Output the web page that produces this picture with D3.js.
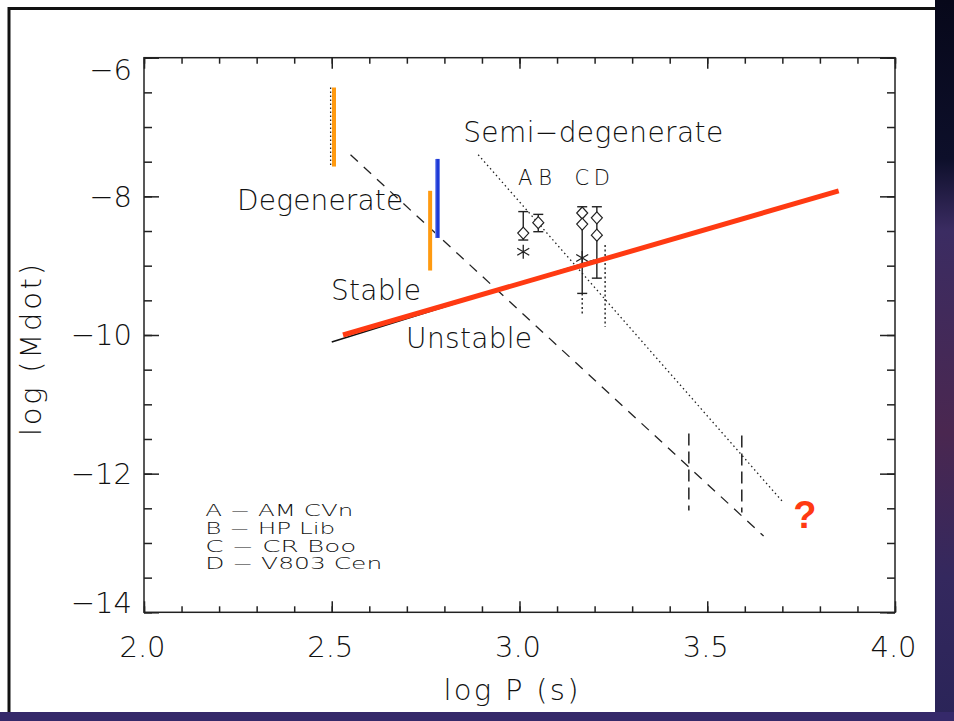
<!DOCTYPE html>
<html>
  <head>
    <meta charset="utf-8" />
    <script src="https://d3js.org/d3.v7.min.js"></script>
    <style>
      body {
        margin: 0;
        background: #fff;
      }
      svg text {
        font-family: "DejaVu Sans", "Liberation Sans", sans-serif;
        font-weight: 200;
        fill: #111;
      }
      .axis .domain {
        stroke: none;
      }
      .axis line {
        stroke: #222;
        stroke-width: 1.5;
      }
    </style>
  </head>

  <body>
    <svg id="chart" width="954" height="721"></svg>

    <script>
      // axis ticks
      const xMajor = [2.0, 2.5, 3.0, 3.5, 4.0];
      const xMinor = d3.range(21).map((i) => 2 + i / 10);
      const yMajor = [-6, -8, -10, -12, -14];
      const yMinor = d3.range(17).map((i) => -6 - i / 2);

      // model lines (log P, log Mdot)
      const degenerate = [[2.55, -7.4], [3.65, -12.9]];
      const semiDegenerate = [[2.89, -7.4], [3.70, -12.4]];
      const stableBoundary = [[2.5, -10.1], [3.2, -8.92]];
      const newBoundary = [[2.53, -10.0], [3.85, -7.92]];
      const startDots = [[2.497, -6.43], [2.497, -7.57]];

      // coloured ranges
      const orangeBars = [
        { x: 2.506, y0: -6.43, y1: -7.57 },
        { x: 2.762, y0: -7.92, y1: -9.07 },
      ];
      const blueBars = [{ x: 2.782, y0: -7.46, y1: -8.6 }];
      const cutoffs = [
        { x: 3.451, y0: -11.42, y1: -12.53 },
        { x: 3.592, y0: -11.45, y1: -12.56 },
      ];

      // observed systems
      const sources = ["A", "B", "C", "D"];
      const sourceNames = ["AM CVn", "HP Lib", "CR Boo", "V803 Cen"];
      const sourceLabelX = [3.015, 3.068, 3.166, 3.219];
      const errorBars = [
        { x: 3.01, y0: -8.22, y1: -8.63 },
        { x: 3.05, y0: -8.26, y1: -8.51 },
        { x: 3.167, y0: -8.15, y1: -9.4 },
        { x: 3.206, y0: -8.15, y1: -9.18 },
      ];
      const diamonds = [
        [3.01, -8.53], [3.05, -8.38], [3.167, -8.24],
        [3.167, -8.4], [3.206, -8.31], [3.206, -8.56],
      ];
      const asterisks = [[3.01, -8.8], [3.167, -8.89]];
      const dottedDrops = [
        { x: 3.167, y0: -9.4, y1: -9.69 },
        { x: 3.228, y0: -8.7, y1: -9.88 },
      ];

      const svg = d3.select("svg#chart");

      // slide background around the white panel
      const defs = svg.append("defs");
      const grad = defs
        .append("linearGradient")
        .attr("id", "space")
        .attr("x1", 0).attr("y1", 0).attr("x2", 0).attr("y2", 1);
      grad.append("stop").attr("offset", "0").attr("stop-color", "#07081a");
      grad.append("stop").attr("offset", "0.22").attr("stop-color", "#0d0f2a");
      grad.append("stop").attr("offset", "0.32").attr("stop-color", "#3b2c62");
      grad.append("stop").attr("offset", "0.6").attr("stop-color", "#4a2750");
      grad.append("stop").attr("offset", "0.8").attr("stop-color", "#34285e");
      grad.append("stop").attr("offset", "1").attr("stop-color", "#2a2458");
      svg.append("rect").attr("x", 935).attr("y", 0).attr("width", 19)
        .attr("height", 721).attr("fill", "url(#space)");
      svg.append("rect").attr("x", 0).attr("y", 712).attr("width", 954)
        .attr("height", 9).attr("fill", "#35296a");
      svg.append("path").attr("d", "M9,712V8.5H935")
        .attr("fill", "none").attr("stroke", "#111").attr("stroke-width", 3);

      const x = d3.scaleLinear().domain([2, 4]).range([144, 895]);
      const y = d3.scaleLinear().domain([-6, -14]).range([57.7, 612.3]);
      const line = d3.line().x((d) => x(d[0])).y((d) => y(d[1]));

      // frame
      svg.append("rect")
        .attr("x", x(2)).attr("y", y(-6))
        .attr("width", x(4) - x(2)).attr("height", y(-14) - y(-6))
        .attr("fill", "none").attr("stroke", "#222").attr("stroke-width", 1.5);

      const fmt = d3.format(".1f");
      const h = y(-14);
      const w = x(4);

      svg.append("g").attr("class", "axis").attr("transform", `translate(0,${h})`)
        .call(d3.axisBottom(x).tickValues(xMinor).tickSize(-6).tickFormat(""));
      svg.append("g").attr("class", "axis").attr("transform", `translate(0,${y(-6)})`)
        .call(d3.axisTop(x).tickValues(xMinor).tickSize(-6).tickFormat(""));
      svg.append("g").attr("class", "axis").attr("transform", `translate(0,${y(-6)})`)
        .call(d3.axisTop(x).tickValues(xMajor).tickSize(-11).tickFormat(""));
      const xAxis = svg.append("g").attr("class", "axis")
        .attr("transform", `translate(0,${h})`)
        .call(d3.axisBottom(x).tickValues(xMajor).tickSize(-11).tickFormat(fmt));
      xAxis.selectAll("text")
        .attr("x", -2).attr("y", 45).attr("dy", 0)
        .style("font-size", "29px");

      svg.append("g").attr("class", "axis").attr("transform", `translate(${x(2)},0)`)
        .call(d3.axisLeft(y).tickValues(yMinor).tickSize(-8).tickFormat(""));
      svg.append("g").attr("class", "axis").attr("transform", `translate(${w},0)`)
        .call(d3.axisRight(y).tickValues(yMinor).tickSize(-8).tickFormat(""));
      svg.append("g").attr("class", "axis").attr("transform", `translate(${w},0)`)
        .call(d3.axisRight(y).tickValues(yMajor).tickSize(-15).tickFormat(""));
      const yAxis = svg.append("g").attr("class", "axis")
        .attr("transform", `translate(${x(2)},0)`)
        .call(d3.axisLeft(y).tickValues(yMajor).tickSize(-15).tickPadding(12)
          .tickFormat(d3.format("d")));
      yAxis.selectAll("text")
        .style("font-size", "29px")
        .attr("dy", (d, i) => (i === 0 ? "0.74em" : i === yMajor.length - 1 ? "0.02em" : "0.34em"));

      svg.append("text")
        .attr("x", 511).attr("y", 700)
        .attr("text-anchor", "middle").style("font-size", "29px")
        .attr("textLength", 135)
        .text("log P (s)");
      svg.append("text")
        .attr("transform", "translate(41,350) rotate(-90)")
        .attr("text-anchor", "middle").style("font-size", "29px")
        .attr("textLength", 172)
        .text("log (Mdot)");

      // model curves
      svg.append("path").datum(degenerate).attr("d", line)
        .attr("fill", "none").attr("stroke", "#222").attr("stroke-width", 1.3)
        .attr("stroke-dasharray", "10,8");
      svg.append("path").datum(semiDegenerate).attr("d", line)
        .attr("fill", "none").attr("stroke", "#222").attr("stroke-width", 1.3)
        .attr("stroke-dasharray", "1.5,3");
      svg.append("path").datum(startDots).attr("d", line)
        .attr("fill", "none").attr("stroke", "#222").attr("stroke-width", 1.3)
        .attr("stroke-dasharray", "1.5,2.5");
      svg.append("path").datum(stableBoundary).attr("d", line)
        .attr("fill", "none").attr("stroke", "#111").attr("stroke-width", 1.6);

      svg.selectAll("line.cut").data(cutoffs).join("line").attr("class", "cut")
        .attr("x1", (d) => x(d.x)).attr("x2", (d) => x(d.x))
        .attr("y1", (d) => y(d.y0)).attr("y2", (d) => y(d.y1))
        .attr("stroke", "#222").attr("stroke-width", 1.5)
        .attr("stroke-dasharray", "12,6");

      // observed systems
      svg.selectAll("line.err").data(errorBars).join("line").attr("class", "err")
        .attr("x1", (d) => x(d.x)).attr("x2", (d) => x(d.x))
        .attr("y1", (d) => y(d.y0)).attr("y2", (d) => y(d.y1))
        .attr("stroke", "#222").attr("stroke-width", 1.4);
      errorBars.forEach((d) => {
        [d.y0, d.y1].forEach((v) => {
          svg.append("line")
            .attr("x1", x(d.x) - 5).attr("x2", x(d.x) + 5)
            .attr("y1", y(v)).attr("y2", y(v))
            .attr("stroke", "#222").attr("stroke-width", 1.4);
        });
      });
      svg.selectAll("line.drop").data(dottedDrops).join("line").attr("class", "drop")
        .attr("x1", (d) => x(d.x)).attr("x2", (d) => x(d.x))
        .attr("y1", (d) => y(d.y0)).attr("y2", (d) => y(d.y1))
        .attr("stroke", "#222").attr("stroke-width", 1.4)
        .attr("stroke-dasharray", "2,2.5");
      svg.selectAll("path.dia").data(diamonds).join("path").attr("class", "dia")
        .attr("d", (d) => {
          const cx = x(d[0]), cy = y(d[1]);
          return `M${cx},${cy - 6}L${cx + 5.5},${cy}L${cx},${cy + 6}L${cx - 5.5},${cy}Z`;
        })
        .attr("fill", "#fff").attr("stroke", "#222").attr("stroke-width", 1.2);
      svg.selectAll("path.ast").data(asterisks).join("path").attr("class", "ast")
        .attr("d", (d) => {
          const cx = x(d[0]), cy = y(d[1]);
          return `M${cx},${cy - 7}V${cy + 7}M${cx - 6},${cy - 3.5}L${cx + 6},${cy + 3.5}` +
            `M${cx - 6},${cy + 3.5}L${cx + 6},${cy - 3.5}`;
        })
        .attr("fill", "none").attr("stroke", "#222").attr("stroke-width", 1.3);

      svg.selectAll("text.src").data(sources).join("text").attr("class", "src")
        .attr("x", (d, i) => x(sourceLabelX[i])).attr("y", y(-7.84))
        .attr("text-anchor", "middle").style("font-size", "21px")
        .text((d) => d);

      // coloured ranges and new boundary
      svg.selectAll("line.orange").data(orangeBars).join("line").attr("class", "orange")
        .attr("x1", (d) => x(d.x)).attr("x2", (d) => x(d.x))
        .attr("y1", (d) => y(d.y0)).attr("y2", (d) => y(d.y1))
        .attr("stroke", "#ff9a10").attr("stroke-width", 4);
      svg.selectAll("line.blue").data(blueBars).join("line").attr("class", "blue")
        .attr("x1", (d) => x(d.x)).attr("x2", (d) => x(d.x))
        .attr("y1", (d) => y(d.y0)).attr("y2", (d) => y(d.y1))
        .attr("stroke", "#1e3ad6").attr("stroke-width", 4);
      svg.selectAll("line.blue2").data(blueBars).join("line").attr("class", "blue2")
        .attr("x1", (d) => x(d.x) - 2).attr("x2", (d) => x(d.x) - 2)
        .attr("y1", (d) => y(d.y0)).attr("y2", (d) => y(d.y1))
        .attr("stroke", "#7f93f0").attr("stroke-width", 1.2);
      svg.append("path").datum(newBoundary).attr("d", line)
        .attr("fill", "none").attr("stroke", "#ff3a12").attr("stroke-width", 5);

      // annotations
      const note = (t, px, py, len) =>
        svg.append("text").attr("x", x(px)).attr("y", y(py))
          .style("font-size", "28px").attr("textLength", len).text(t);
      note("Semi\u2212degenerate", 2.85, -7.22, 260);
      note("Degenerate", 2.248, -8.2, 166);
      note("Stable", 2.498, -9.5, 90);
      note("Unstable", 2.698, -10.19, 126);

      svg.append("text").attr("x", x(3.76)).attr("y", y(-12.79))
        .attr("text-anchor", "middle")
        .style("font-size", "38px").style("font-weight", "bold")
        .style("fill", "#ff3a12").style("font-family", "Liberation Sans, sans-serif")
        .text("?");

      const legendLen = [148, 130, 151, 177];
      const legend = svg.append("g").attr("transform", `translate(${x(2.163)},${y(-12.61)})`);
      sources.forEach((s, i) => {
        legend.append("text").attr("x", 0).attr("y", i * 17.8)
          .style("font-size", "15px")
          .attr("textLength", legendLen[i])
          .attr("lengthAdjust", "spacingAndGlyphs")
          .text(`${s} \u2212 ${sourceNames[i]}`);
      });
    </script>
  </body>
</html>
